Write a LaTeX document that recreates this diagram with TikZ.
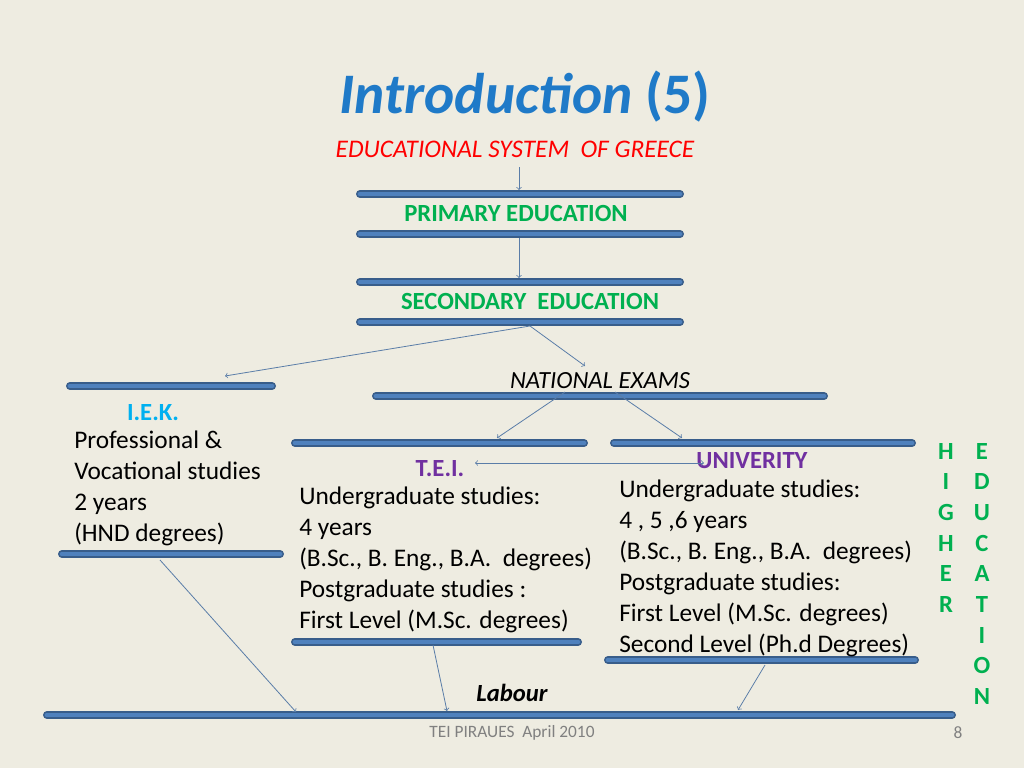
\documentclass[tikz,border=0pt]{standalone}
\usepackage{fontspec}
\setmainfont{Carlito}
\begin{document}
\begin{tikzpicture}[x=0.75pt,y=-0.75pt,
  bar/.style={line cap=round,line width=6pt,draw=barB},
  barin/.style={line cap=round,line width=3.6pt,draw=barF},
  arr/.style={->,draw=arrC,line width=0.6pt,>=to},
  txt/.style={font=\fontsize{19}{23.25}\selectfont,align=left,inner sep=0pt,anchor=north west},
  hd/.style={font=\bfseries\fontsize{18.5}{22}\selectfont,inner sep=0pt}]
\definecolor{bg}{HTML}{EEECE1}
\definecolor{barB}{HTML}{385D8A}
\definecolor{barF}{HTML}{4F81BD}
\definecolor{arrC}{HTML}{5A7DA8}
\definecolor{ttl}{HTML}{1F7AC8}
\definecolor{grn}{HTML}{00B050}
\definecolor{purp}{HTML}{7030A0}
\definecolor{cyanb}{HTML}{00B0F0}
\fill[bg] (0,0) rectangle (1024,768);
\useasboundingbox (0,0) rectangle (1024,768);
\node[inner sep=0pt] (title) at (525,97) {\fontsize{43}{48}\selectfont\bfseries\itshape\color{ttl}Introduction \upshape(5)};
\node[inner sep=0pt,font=\itshape\fontsize{19}{22}\selectfont,text=red] (sys) at (515,149) {EDUCATIONAL SYSTEM\ \ OF GREECE};
% bars
\foreach \n/\a/\b/\y in {p1/360/680/194,p2/360/680/234,s1/360/680/282,s2/360/680/322,iek1/70/272/386,ne/376/824/396,t1/295/584/443,u1/614/912/443,iek2/62/280/554,t2/295/578/642,u2/608/915/660,lab/47/952/715}{
  \coordinate (\n a) at (\a,\y); \coordinate (\n b) at (\b,\y);
  \draw[bar] (\n a) -- (\n b); \draw[barin] (\n a) -- (\n b);}
\node[hd,text=grn] (prim) at (516,213) {PRIMARY EDUCATION};
\node[hd,text=grn] (sec) at (530,301) {SECONDARY\ \ EDUCATION};
\node[inner sep=0pt,font=\itshape\fontsize{18.5}{22}\selectfont] (nat) at (600,381) {NATIONAL EXAMS};
\node[hd,text=cyanb] (iek) at (153,413) {I.E.K.};
\node[txt] (iektxt) at (74,431) {Professional \&\\Vocational studies\\2 years\\(HND degrees)};
\node[hd,text=purp] (tei) at (440,469) {T.E.I.};
\node[txt] (teitxt) at (299,487) {Undergraduate studies:\\4 years\\(B.Sc., B. Eng., B.A.\ \ degrees)\\Postgraduate studies :\\First Level (M.Sc. degrees)};
\node[hd,text=purp] (uni) at (752,461) {UNIVERITY};
\node[txt] (unitxt) at (619,480) {Undergraduate studies:\\4 , 5 ,6 years\\(B.Sc., B. Eng., B.A.\ \ degrees)\\Postgraduate studies:\\First Level (M.Sc. degrees)\\Second Level (Ph.d Degrees)};
\node[inner sep=0pt,font=\bfseries\itshape\fontsize{18.5}{22}\selectfont] (labour) at (512,693) {Labour};
\node[inner sep=0pt,anchor=north,font=\bfseries\fontsize{18.5}{23}\selectfont,text=grn,align=center] (higher) at (946,443) {H\\I\\G\\H\\E\\R};
\node[inner sep=0pt,anchor=north,font=\bfseries\fontsize{18.5}{23}\selectfont,text=grn,align=center] (educ) at (982,443) {E\\D\\U\\C\\A\\T\\I\\O\\N};
\node[inner sep=0pt,font=\fontsize{13}{15}\selectfont,text=gray] (foot) at (512,733) {TEI PIRAUES\ \ April 2010};
\node[inner sep=0pt,font=\fontsize{13}{15}\selectfont,text=gray] (pg) at (958,733) {8};
% arrows
\coordinate (a0) at (519,167); \coordinate (a0e) at (519,190);
\coordinate (a1) at (519,238); \coordinate (a1e) at (519,278);
\coordinate (a2) at (530,326); \coordinate (a2e) at (225,376); \coordinate (a3e) at (585,366);
\coordinate (a4) at (565,392); \coordinate (a4e) at (497,438);
\coordinate (a5) at (615,392); \coordinate (a5e) at (682,438);
\coordinate (d1) at (475,463); \coordinate (d2) at (704,463);
\coordinate (b1) at (160,560); \coordinate (b1e) at (296,712);
\coordinate (b2) at (433,645); \coordinate (b2e) at (447,711);
\coordinate (b3) at (765,665); \coordinate (b3e) at (738,710);
\draw[arr] (a0) -- (a0e);
\draw[arr] (a1) -- (a1e);
\draw[arr] (a2) -- (a2e);
\draw[arr] (a2) -- (a3e);
\draw[arr] (a4) -- (a4e);
\draw[arr] (a5) -- (a5e);
\draw[arr,<->] (d1) -- (d2);
\draw[arr] (b1) -- (b1e);
\draw[arr] (b2) -- (b2e);
\draw[arr] (b3) -- (b3e);
\end{tikzpicture}
\end{document}
